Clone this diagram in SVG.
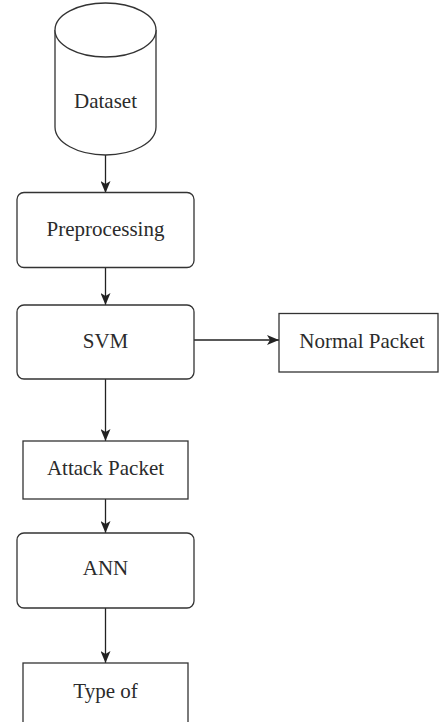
<svg xmlns="http://www.w3.org/2000/svg" width="439" height="722" viewBox="0 0 439 722">
<style>
.box{fill:#fff;stroke:#333;stroke-width:1.3}
.t{font-family:'Liberation Serif','DejaVu Serif',serif;font-size:21px;fill:#2b2b2b;text-anchor:middle}
.c{stroke:#222;stroke-width:1.3;fill:none;marker-end:url(#ah)}
</style>
<defs>
<marker id="ah" viewBox="0 0 12 10" refX="12" refY="5" markerWidth="12" markerHeight="10" markerUnits="userSpaceOnUse" orient="auto">
<path d="M0,0 L12,5 L0,10 L3,5 z" fill="#222"/>
</marker>
</defs>
<rect width="439" height="722" fill="#fff"/>
<g id="connectors">
<line class="c" x1="105.5" y1="155" x2="105.5" y2="193"/>
<line class="c" x1="105.5" y1="267" x2="105.5" y2="305"/>
<line class="c" x1="194" y1="340" x2="279" y2="340"/>
<line class="c" x1="105.5" y1="379" x2="105.5" y2="441"/>
<line class="c" x1="105.5" y1="499" x2="105.5" y2="533"/>
<line class="c" x1="105.5" y1="608" x2="105.5" y2="663"/>
</g>
<g id="dataset">
<path class="box" d="M55,30 L55,127 A50.5,28 0 0 0 156,127 L156,30 A50.5,27 0 0 0 55,30 Z"/>
<path class="box" fill="none" d="M55,30 A50.5,27 0 0 0 156,30"/>
<text class="t" x="105.5" y="108" font-family="Liberation Serif, serif">Dataset</text>
</g>
<g id="preprocessing">
<rect class="box" x="17" y="192.5" width="177" height="75" rx="7"/>
<text class="t" x="105.5" y="236">Preprocessing</text>
</g>
<g id="svm">
<rect class="box" x="17" y="305" width="177" height="74" rx="7"/>
<text class="t" x="105.5" y="348">SVM</text>
</g>
<g id="normal">
<rect class="box" x="279" y="313.5" width="159" height="58.5"/>
<text class="t" x="362" y="348">Normal Packet</text>
</g>
<g id="attack">
<rect class="box" x="23" y="441" width="165" height="58"/>
<text class="t" x="105.5" y="475">Attack Packet</text>
</g>
<g id="ann">
<rect class="box" x="17" y="533" width="177" height="75" rx="7"/>
<text class="t" x="105.5" y="575">ANN</text>
</g>
<g id="typeof">
<rect class="box" x="23" y="663" width="165" height="70"/>
<text class="t" x="105.5" y="698">Type of</text>
</g>
</svg>
